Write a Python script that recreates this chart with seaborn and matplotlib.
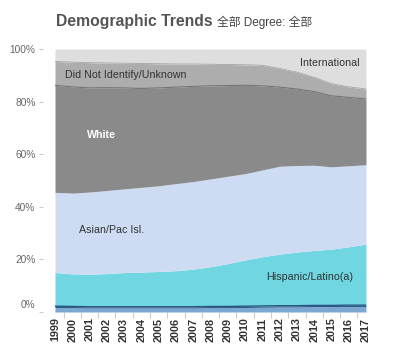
import numpy as np
import matplotlib
matplotlib.use("Agg")
import matplotlib.pyplot as plt
import matplotlib.transforms as mtransforms
import seaborn as sns

# ---------------- data (percent of total, per year) ----------------
years = list(range(1999, 2018))
groups = ["Black/African American", "American Indian/Alaska Native",
          "Hispanic/Latino(a)", "Asian/Pac Isl.", "White",
          "Did Not Identify/Unknown", "International"]
black = [1.7, 1.6, 1.5, 1.5, 1.5, 1.5, 1.5, 1.5, 1.5, 1.6, 1.6, 1.7, 1.8, 1.9, 1.9, 2.0, 2.0, 2.1, 2.1]
native = [0.5] * 19
hispanic = [12.8, 12.4, 12.4, 12.6, 13.0, 13.2, 13.4, 13.7, 14.3, 15.1, 16.3, 17.6, 18.7, 19.6, 20.4, 20.9, 21.4, 22.2, 23.2]
asian = [30.5, 30.7, 31.2, 31.6, 31.8, 32.2, 32.6, 33.1, 33.3, 33.4, 33.2, 32.8, 33.0, 33.4, 32.9, 32.4, 31.3, 30.8, 30.2]
white = [40.7, 40.4, 39.6, 39.1, 38.4, 37.6, 37.2, 36.7, 36.2, 35.4, 34.5, 33.6, 32.0, 30.1, 29.1, 28.0, 27.0, 26.0, 25.0]
unknown = [9.1, 9.4, 9.6, 9.4, 9.4, 9.5, 9.2, 8.8, 8.5, 8.2, 8.0, 7.8, 7.8, 7.1, 6.4, 5.4, 4.6, 4.0, 3.8]
international = [4.7, 5.0, 5.2, 5.3, 5.4, 5.5, 5.6, 5.7, 5.7, 5.8, 5.9, 6.0, 6.2, 7.4, 8.8, 10.8, 13.2, 14.4, 15.2]
ytick_vals = [0, 20, 40, 60, 80, 100]
ytick_labels = ["0%", "20%", "40%", "60%", "80%", "100%"]

colors = ["#7ba8d0", "#2f5f8e", "#6fd6e2", "#cedcf3", "#8a8a8a", "#adadad", "#dedede"]

# ---------------- style ----------------
sns.set_theme(style="white")
FAM = ["Liberation Sans", "Noto Sans CJK SC", "DejaVu Sans"]
plt.rcParams["font.family"] = FAM

fig = plt.figure(figsize=(4.08, 3.54), dpi=100)
ax = fig.add_axes([55 / 408, 42 / 354, 311 / 408, 263 / 354])

series = [black, native, hispanic, asian, white, unknown, international]
ax.stackplot(years, *series, colors=colors, linewidth=0)

# boundary strokes
tops = np.cumsum(np.array(series), axis=0)
sns.lineplot(x=years, y=tops[1], ax=ax, color="#2a5580", linewidth=1.0, legend=False)
sns.lineplot(x=years, y=tops[4], ax=ax, color="#747474", linewidth=0.8, legend=False)
sns.lineplot(x=years, y=tops[5], ax=ax, color="#a4a4a4", linewidth=0.6, legend=False)
if ax.get_legend() is not None:
    ax.get_legend().remove()

ax.set_xlim(1999, 2017)
ax.set_ylim(0, 100)
ax.set_xlabel("")
ax.set_ylabel("")

for s in ax.spines.values():
    s.set_visible(False)
ax.spines["left"].set_position(("outward", 9))
ax.spines["left"].set_visible(True)
ax.spines["left"].set_color("none")

ax.set_yticks(ytick_vals)
ax.set_yticklabels(ytick_labels)
ax.tick_params(axis="y", left=True, length=3, width=0.8, color="#cccccc",
               pad=2, labelsize=7.3, labelcolor="#666666")

ax.set_xticks(years)
ax.set_xticklabels([str(y) for y in years], rotation=90, fontweight="bold")
ax.tick_params(axis="x", bottom=True, length=0, pad=4, labelsize=7.8,
               labelcolor="#333333")
ax.set_xticks([y + 0.5 for y in years[:-1]], minor=True)
ax.tick_params(axis="x", which="minor", bottom=True, length=4, width=0.8,
               color="#cccccc")

# shift the 0% label up like the reference
lbl0 = ax.get_yticklabels()[0]
lbl0.set_transform(lbl0.get_transform() +
                   mtransforms.ScaledTranslation(0, 8 / 100, fig.dpi_scale_trans))

# in-area labels
ax.text(2016.65, 94.7, "International", ha="right", va="center",
        fontsize=7.7, color="#333333")
ax.text(1999.6, 90.1, "Did Not Identify/Unknown", ha="left", va="center",
        fontsize=7.7, color="#333333")
ax.text(2000.86, 67.3, "White", ha="left", va="center", fontsize=7.7,
        color="white", fontweight="bold")
ax.text(2000.4, 31.1, "Asian/Pac Isl.", ha="left", va="center",
        fontsize=7.7, color="#333333")
ax.text(2011.2, 13.2, "Hispanic/Latino(a)", ha="left", va="center",
        fontsize=7.7, color="#333333")

# title
t1 = fig.text(56 / 408, 1 - 26 / 354, "Demographic Trends", fontsize=11.3,
              fontweight="bold", color="#555555", va="baseline", ha="left")
fig.canvas.draw()
bb = t1.get_window_extent()
fig.text((bb.x1 + 4) / 408, 1 - 26 / 354, "全部 Degree: 全部", fontsize=8.5,
         color="#444444", va="baseline", ha="left")

fig.savefig("out.png", dpi=100)
